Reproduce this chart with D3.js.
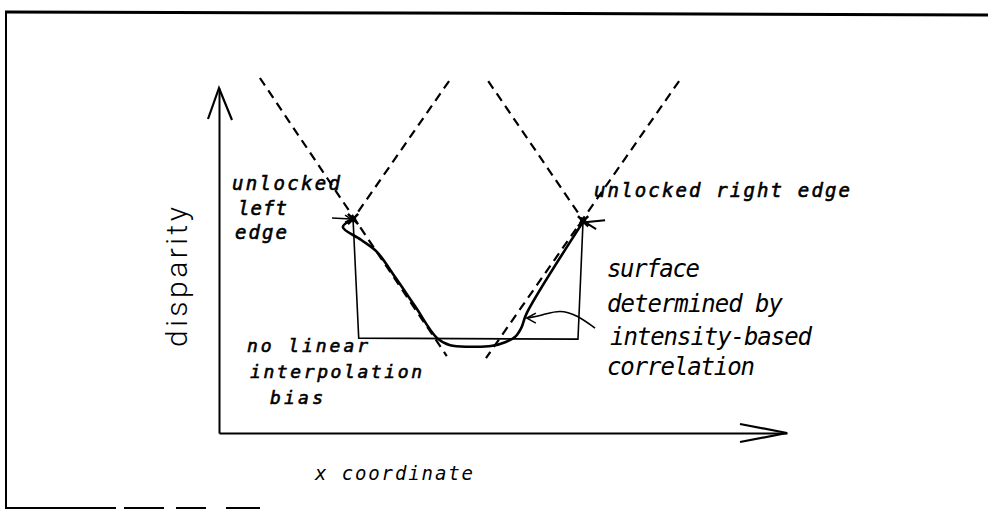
<!DOCTYPE html>
<html>
<head>
<meta charset="utf-8">
<style type="text/css">
  body{
    margin: 0;
    background: white;
  }
  .label{
    font-family: 'DejaVu Sans Mono', monospace;
    font-style: italic;
    fill: black;
  }
  .heavy{
    stroke: black;
    stroke-width: 0.6px;
  }
</style>
</head>
<body>

<script src="https://cdn.jsdelivr.net/npm/d3@7"></script>

<svg id="chart"></svg>

<script>

var width = 988;
var height = 511;

// dashed guide lines (x, disparity) in axis units 0..100
var guideA = [[7.2, 102.9], [40.1, 22.3]];
var guideB = [[40.5, 102.0], [23.6, 62.0]];
var guideC = [[47.4, 102.0], [64.1, 61.7]];
var guideD = [[81.0, 102.0], [47.0, 21.7]];

// window box under the surface
var boxOutline = [[23.6, 62.0], [24.6, 27.5], [63.2, 27.2], [64.1, 61.7]];

// disparity surface found by correlation
var surfaceX = [23.6, 21.8, 25.0, 27.8, 31.0, 34.5, 38.4, 40.7, 44.2, 47.9, 50.5, 52.1, 53.2, 54.2, 64.1];
var surfaceY = [62.0, 59.7, 56.0, 52.5, 45.2, 36.8, 27.5, 25.4, 25.0, 25.2, 26.4, 27.8, 30.4, 34.8, 61.2];

// unlocked edges
var edgeX = [23.6, 64.1];
var edgeY = [62.0, 61.4];

// curly callout from the surface label
var calloutX = [66.2, 63.0, 60.0, 57.0, 54.2];
var calloutY = [30.4, 34.2, 35.7, 34.2, 33.3];

var leftEdgeLabel = ["unlocked", "left", "edge"];
var rightEdgeLabel = "unlocked right edge";
var biasLabel = ["no linear", "interpolation", "bias"];
var surfaceLabel = ["surface", "determined by", "intensity-based", "correlation"];
var xTitle = "x coordinate";
var yTitle = "disparity";

var svg = d3.select("#chart")
  .attr("width", width)
  .attr("height", height);

var x = d3.scaleLinear().domain([0, 100]).range([219, 787]);
var y = d3.scaleLinear().domain([0, 100]).range([433, 88]);

var line = d3.line()
  .x(function(d) { return x(d[0]); })
  .y(function(d) { return y(d[1]); });

// scanned page frame
svg.append("path")
  .attr("d", "M5,12 L400,13 L988,15")
  .attr("fill", "none").attr("stroke", "black").attr("stroke-width", 3);
svg.append("line")
  .attr("x1", 6).attr("y1", 12).attr("x2", 6).attr("y2", 509)
  .attr("stroke", "black").attr("stroke-width", 2);
svg.append("line")
  .attr("x1", 6).attr("y1", 508).attr("x2", 260).attr("y2", 508)
  .attr("stroke", "black").attr("stroke-width", 2)
  .attr("stroke-dasharray", "110,8,40,12,30,20,40");

// axes, no ticks
var xAxis = d3.axisBottom(x).tickValues([]).tickSizeOuter(0);
var yAxis = d3.axisLeft(y).tickValues([]).tickSizeOuter(0);

svg.append("g")
  .attr("transform", "translate(0," + y(0) + ")")
  .call(xAxis)
  .select(".domain").attr("stroke-width", 2);

svg.append("g")
  .attr("transform", "translate(" + x(0) + ",0)")
  .call(yAxis)
  .select(".domain").attr("stroke-width", 2);

function barbs(tip, a, b, sw) {
  svg.append("path")
    .attr("d", "M" + a[0] + "," + a[1] + " L" + tip[0] + "," + tip[1] + " L" + b[0] + "," + b[1])
    .attr("fill", "none")
    .attr("stroke", "black")
    .attr("stroke-width", sw)
    .attr("stroke-linejoin", "miter");
}

// axis arrow heads
barbs([x(0), y(100)], [x(0) - 11, y(100) + 31], [x(0) + 13, y(100) + 32], 2.2);
barbs([x(100), y(0)], [x(100) - 47, y(0) - 9], [x(100) - 47, y(0) + 9], 2.2);

// dashed guides
[guideA, guideB, guideC, guideD].forEach(function(g) {
  svg.append("path")
    .attr("d", line(g))
    .attr("fill", "none")
    .attr("stroke", "black")
    .attr("stroke-width", 2.2)
    .attr("stroke-dasharray", "9,6");
});

// box
svg.append("path")
  .attr("d", line(boxOutline))
  .attr("fill", "none")
  .attr("stroke", "black")
  .attr("stroke-width", 1.6);

// surface curve
var surface = d3.zip(surfaceX, surfaceY);
svg.append("path")
  .attr("d", line.curve(d3.curveCatmullRom.alpha(0.5))(surface))
  .attr("fill", "none")
  .attr("stroke", "black")
  .attr("stroke-width", 2.6);
line.curve(d3.curveLinear);

// edge markers
var edges = d3.zip(edgeX, edgeY);
var sym = d3.symbol().type(d3.symbolTimes || d3.symbolCross).size(70);
svg.selectAll(".edge")
  .data(edges)
  .enter()
  .append("path")
  .attr("class", "edge")
  .attr("transform", function(d) { return "translate(" + x(d[0]) + "," + y(d[1]) + ")"; })
  .attr("d", sym)
  .attr("fill", "none")
  .attr("stroke", "black")
  .attr("stroke-width", 2.5);
svg.selectAll(".edgeDot")
  .data(edges)
  .enter()
  .append("circle")
  .attr("class", "edgeDot")
  .attr("cx", function(d) { return x(d[0]); })
  .attr("cy", function(d) { return y(d[1]); })
  .attr("r", 3.2);

// pointer from the left label
var lx = x(edgeX[0]), ly = y(edgeY[0]);
svg.append("line")
  .attr("x1", lx - 21).attr("y1", ly - 1).attr("x2", lx - 2).attr("y2", ly)
  .attr("stroke", "black").attr("stroke-width", 1.5);
barbs([lx - 2, ly], [lx - 8, ly - 4], [lx - 8, ly + 3], 1.5);

// pointer from the right label
var rx = x(edgeX[1]), ry = y(edgeY[1]);
barbs([rx + 2, ry + 1], [rx + 22, ry - 1], [rx + 13, ry + 8], 2);

// curly callout
var callout = d3.zip(calloutX, calloutY);
svg.append("path")
  .attr("d", line.curve(d3.curveBasis)(callout))
  .attr("fill", "none")
  .attr("stroke", "black")
  .attr("stroke-width", 1.6);
line.curve(d3.curveLinear);
var cx = x(calloutX[4]), cy = y(calloutY[4]);
barbs([cx, cy], [cx + 9, cy - 5], [cx + 9, cy + 5], 1.6);

// labels
function label(t, px, py, len, size, cls) {
  svg.append("text")
    .attr("class", "label " + (cls || ""))
    .attr("x", px)
    .attr("y", py)
    .attr("font-size", size)
    .attr("textLength", len)
    .attr("lengthAdjust", "spacing")
    .text(t);
}

label(leftEdgeLabel[0], 232, 190, 108, 19, "heavy");
label(leftEdgeLabel[1], 238, 215, 49, 19, "heavy");
label(leftEdgeLabel[2], 235, 239, 52, 19, "heavy");

label(rightEdgeLabel, 594, 197, 256, 19, "heavy");

label(biasLabel[0], 247, 352, 121, 18, "heavy");
label(biasLabel[1], 250, 378, 172, 18, "heavy");
label(biasLabel[2], 270, 404, 53, 18, "heavy");

label(surfaceLabel[0], 607, 277, 93, 24);
label(surfaceLabel[1], 607, 312, 176, 24);
label(surfaceLabel[2], 610, 345, 202, 24);
label(surfaceLabel[3], 607, 375, 148, 24);

label(xTitle, 315, 480, 158, 19);

svg.append("text")
  .attr("transform", "translate(187,347) rotate(-90)")
  .attr("font-family", "Roboto, 'DejaVu Sans', sans-serif")
  .attr("font-weight", 300)
  .attr("font-size", 30)
  .attr("textLength", 140)
  .attr("lengthAdjust", "spacing")
  .text(yTitle);

</script>

</body>
</html>
